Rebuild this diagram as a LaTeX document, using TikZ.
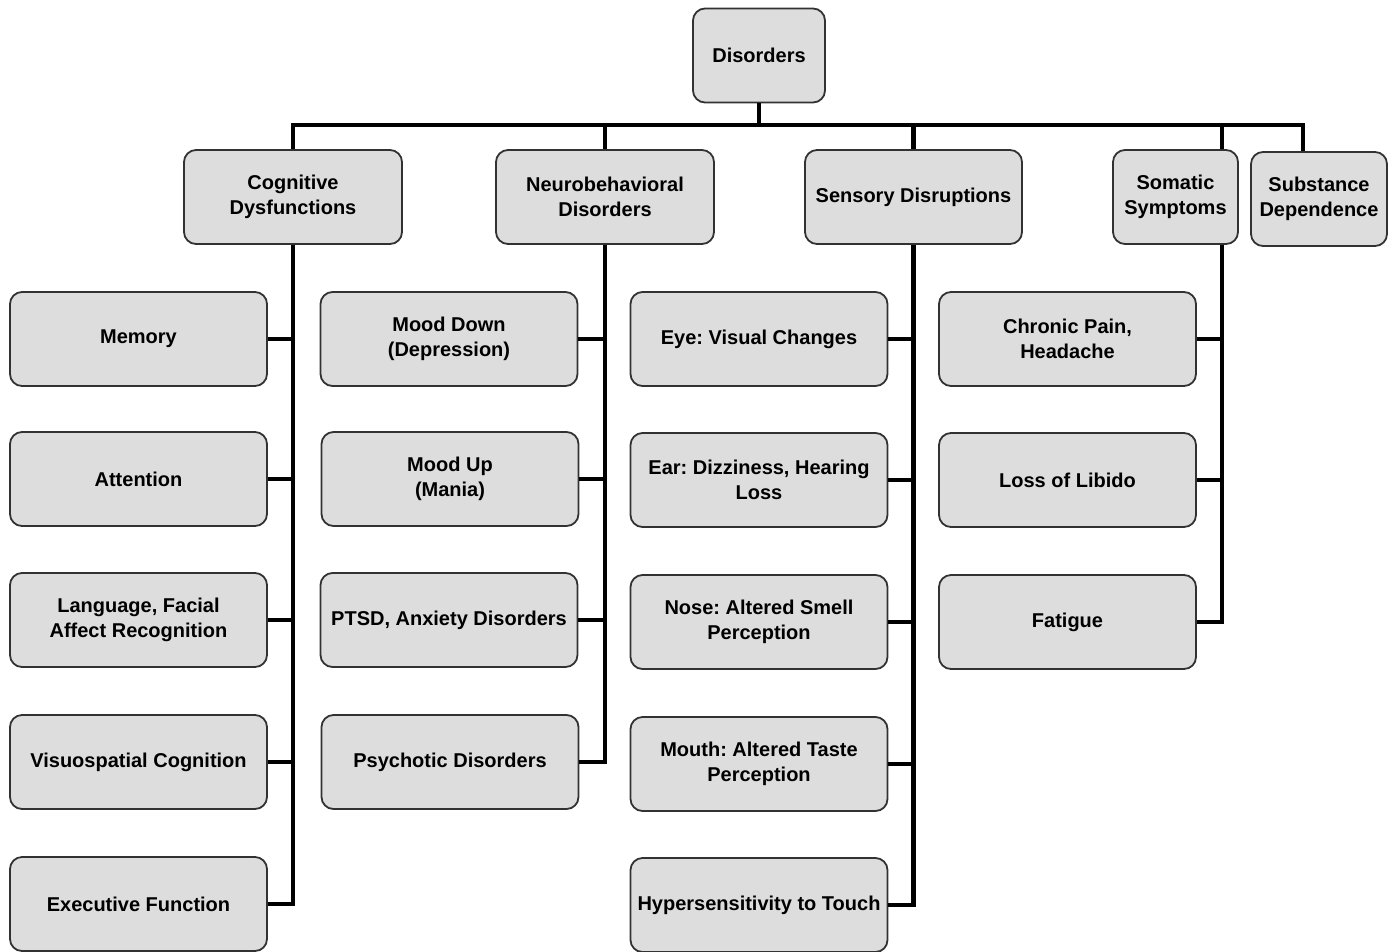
\documentclass[tikz,border=0pt]{standalone}
\usepackage{fontspec}
\setmainfont{Liberation Sans}
\usepackage{tikz}
\usepackage{xcolor}
\frenchspacing

\definecolor{boxgray}{RGB}{221,221,221}
\definecolor{edgegray}{RGB}{50,50,50}

\begin{document}
\begin{tikzpicture}[x=1pt, y=-1pt,
  box/.style={draw=edgegray, line width=1.8pt, fill=boxgray, rounded corners=12pt,
    inner sep=0pt, align=center, font=\fontsize{20}{25}\selectfont\bfseries},
  item/.style={box, minimum width=257pt, minimum height=94pt},
  head/.style={box, minimum height=94pt},
  link/.style={line width=4.5pt, black}]
  \useasboundingbox (0,0) rectangle (1397,951);

  % root
  \node[head, minimum width=132pt] (disorders) at (759,55.5) {Disorders};
  \coordinate (bus) at (759,125);

  % main groups
  \node[head, minimum width=218pt] (cog) at (293,197) {Cognitive\\Dysfunctions};
  \node[head, minimum width=218pt] (neuro) at (605,197) {Neurobehavioral\\Disorders};
  \node[head, minimum width=217pt] (sens) at (913.5,197) {Sensory Disruptions};
  \node[head, minimum width=125pt] (som) at (1175.5,197) {Somatic\\Symptoms};
  \node[head, minimum width=136pt] (subst) at (1319,199) {Substance\\Dependence};

  % cognitive
  \node[item] (memory) at (138.5,339) {Memory};
  \node[item] (attention) at (138.5,479) {Attention};
  \node[item] (language) at (138.5,620) {Language, Facial\\Affect Recognition};
  \node[item] (visuo) at (138.5,762) {Visuospatial Cognition};
  \node[item] (exec) at (138.5,904) {Executive Function};

  % neurobehavioral
  \node[item] (mood_down) at (449,339) {Mood Down\\(Depression)};
  \node[item] (mood_up) at (450,479) {Mood Up\\(Mania)};
  \node[item] (ptsd) at (449,620) {PTSD, Anxiety Disorders};
  \node[item] (psychotic) at (450,762) {Psychotic Disorders};

  % sensory
  \node[item] (eye) at (759,339) {Eye: Visual Changes};
  \node[item] (ear) at (759,480) {Ear: Dizziness, Hearing\\Loss};
  \node[item] (nose) at (759,622) {Nose: Altered Smell\\Perception};
  \node[item] (mouth) at (759,764) {Mouth: Altered Taste\\Perception};
  \node[item] (touch) at (759,905) {Hypersensitivity to Touch};

  % somatic
  \node[item] (pain) at (1067.5,339) {Chronic Pain,\\Headache};
  \node[item] (libido) at (1067.5,480) {Loss of Libido};
  \node[item] (fatigue) at (1067.5,622) {Fatigue};

  % top level connectors
  \draw[link] (disorders.south) -- (bus);
  \draw[link, line join=miter] (cog.north) |- (bus);
  \draw[link] (neuro.north) |- (bus);
  \draw[link] (sens.north) |- (bus);
  \coordinate (som_top) at ([xshift=46.5pt]som.north);
  \coordinate (som_bottom) at ([xshift=46.5pt]som.south);
  \coordinate (subst_top) at ([xshift=-16pt]subst.north);
  \draw[link] (som_top) |- (bus);
  \draw[link, line join=miter] (subst_top) |- (bus);

  % trunks
  \draw[link, line join=miter] (cog.south) |- (exec.east);
  \draw[link, line join=miter] (neuro.south) |- (psychotic.east);
  \draw[link, line join=miter] (sens.south) |- (touch.east);
  \draw[link, line join=miter] (som_bottom) |- (fatigue.east);

  % branches
  \draw[link] (memory.east) -- (memory.east -| cog.south);
  \draw[link] (attention.east) -- (attention.east -| cog.south);
  \draw[link] (language.east) -- (language.east -| cog.south);
  \draw[link] (visuo.east) -- (visuo.east -| cog.south);
  \draw[link] (mood_down.east) -- (mood_down.east -| neuro.south);
  \draw[link] (mood_up.east) -- (mood_up.east -| neuro.south);
  \draw[link] (ptsd.east) -- (ptsd.east -| neuro.south);
  \draw[link] (eye.east) -- (eye.east -| sens.south);
  \draw[link] (ear.east) -- (ear.east -| sens.south);
  \draw[link] (nose.east) -- (nose.east -| sens.south);
  \draw[link] (mouth.east) -- (mouth.east -| sens.south);
  \draw[link] (pain.east) -- (pain.east -| som_bottom);
  \draw[link] (libido.east) -- (libido.east -| som_bottom);
\end{tikzpicture}
\end{document}
